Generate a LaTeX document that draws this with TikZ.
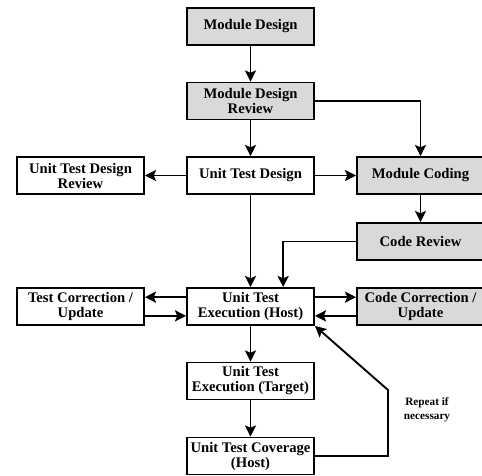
\documentclass[tikz,border=0pt]{standalone}
\usepackage{fontspec}
\setmainfont{Liberation Serif}
\usetikzlibrary{arrows.meta}

\begin{document}
\begin{tikzpicture}[x=0.03cm,y=-0.03cm,
  box/.style={draw,line width=1.6pt,minimum width=3.81cm,minimum height=1.11cm,
    inner sep=0pt,align=center,font=\fontsize{12.5}{12.8}\selectfont\bfseries},
  grey/.style={box,fill=black!15},
  flow/.style={line width=1.6pt,-{Stealth[length=9.5pt,width=9.5pt,inset=2pt]}}]
\useasboundingbox (0,0) rectangle (482,475);
\clip (0,0) rectangle (482,475);
% main column
\node[grey] at (250.5,26.5) (md) {Module Design};
\node[grey] at (250.5,101) (mdr) {Module Design\\Review};
\node[box] at (250.5,175.5) (utd) {Unit Test Design};
\node[box] at (250.5,306.5) (uteh) {Unit Test\\Execution (Host)};
\node[box] at (250.5,381) (utet) {Unit Test\\Execution (Target)};
\node[box] at (250.5,456) (utch) {Unit Test Coverage\\(Host)};
% left column
\node[box] at (80.5,175.5) (utdr) {Unit Test Design\\Review};
\node[box] at (80.5,306.5) (tcu) {Test Correction /\\Update};
% right column
\node[grey] at (420.5,175.5) (mc) {Module Coding};
\node[grey] at (420.5,241.5) (cr) {Code Review};
\node[grey] at (420.5,306.5) (ccu) {Code Correction /\\Update};
\coordinate (bend) at (388,390);
\node[font=\fontsize{9.6}{11.6}\selectfont\bfseries,align=center] at (427,410) (rep) {Repeat if\\necessary};
\draw[flow] (md) -- (mdr);
\draw[flow] (mdr.east) -| (mc.north);
\draw[flow] (mdr) -- (utd);
\draw[flow] (utd) -- (utdr);
\draw[flow] (utd) -- (mc);
\draw[flow] (mc) -- (cr);
\draw[flow] (utd) -- (uteh);
\draw[flow] (cr.west) -| ([xshift=0.98cm]uteh.north);
\draw[flow] ([yshift=0.28cm]uteh.west) -- ([yshift=0.28cm]tcu.east);
\draw[flow] ([yshift=-0.28cm]tcu.east) -- ([yshift=-0.28cm]uteh.west);
\draw[flow] ([yshift=0.28cm]uteh.east) -- ([yshift=0.28cm]ccu.west);
\draw[flow] ([yshift=-0.28cm]ccu.west) -- ([yshift=-0.28cm]uteh.east);
\draw[flow] (uteh) -- (utet);
\draw[flow] (utet) -- (utch);
\draw[flow] (utch.east) -| (bend) -- (uteh.south east);
\end{tikzpicture}
\end{document}
